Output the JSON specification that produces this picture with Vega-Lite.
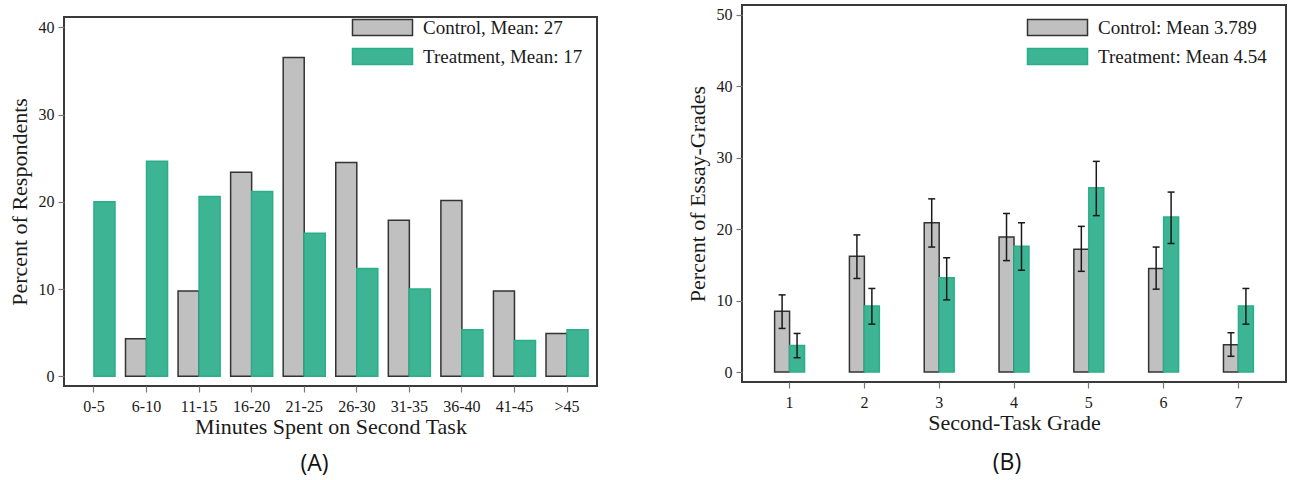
{
  "$schema": "https://vega.github.io/schema/vega-lite/v6.json",
  "padding": {"left": 7, "top": 4, "right": 0, "bottom": 0},
  "background": "white",
  "config": {
    "font": "Liberation Serif",
    "view": {"stroke": "#3a3a3a", "strokeWidth": 2},
    "axis": {"grid": false, "domain": false, "tickColor": "#777777", "tickWidth": 1.2, "tickSize": 6, "labelFont": "Liberation Serif", "labelFontSize": 16, "labelColor": "#1a1a1a", "titleFont": "Liberation Serif", "titleFontSize": 22, "titleFontWeight": "normal", "titleColor": "#1a1a1a"},
    "axisX": {"labelAngle": 0, "labelPadding": 6, "titlePadding": 2},
    "axisY": {"labelPadding": 4, "titlePadding": 7},
    "legend": {"symbolType": "M-3.75,-1H3.75V1H-3.75Z", "symbolSize": 256, "symbolStrokeWidth": 1.5, "symbolOpacity": 1, "labelFont": "Liberation Serif", "labelFontSize": 19, "labelColor": "#1a1a1a", "labelOffset": 31, "rowPadding": 6, "labelLimit": 400},
    "title": {"font": "Open Sans", "fontSize": 23, "fontWeight": "normal", "color": "#111111"}
  },
  "datasets": {
    "minutes": [
      {"bin": "0-5", "series": "Treatment, Mean: 17", "pct": 20.0},
      {"bin": "6-10", "series": "Control, Mean: 27", "pct": 4.3},
      {"bin": "6-10", "series": "Treatment, Mean: 17", "pct": 24.66},
      {"bin": "11-15", "series": "Control, Mean: 27", "pct": 9.77},
      {"bin": "11-15", "series": "Treatment, Mean: 17", "pct": 20.6},
      {"bin": "16-20", "series": "Control, Mean: 27", "pct": 23.4},
      {"bin": "16-20", "series": "Treatment, Mean: 17", "pct": 21.2},
      {"bin": "21-25", "series": "Control, Mean: 27", "pct": 36.56},
      {"bin": "21-25", "series": "Treatment, Mean: 17", "pct": 16.4},
      {"bin": "26-30", "series": "Control, Mean: 27", "pct": 24.5},
      {"bin": "26-30", "series": "Treatment, Mean: 17", "pct": 12.37},
      {"bin": "31-35", "series": "Control, Mean: 27", "pct": 17.9},
      {"bin": "31-35", "series": "Treatment, Mean: 17", "pct": 10.0},
      {"bin": "36-40", "series": "Control, Mean: 27", "pct": 20.15},
      {"bin": "36-40", "series": "Treatment, Mean: 17", "pct": 5.34},
      {"bin": "41-45", "series": "Control, Mean: 27", "pct": 9.77},
      {"bin": "41-45", "series": "Treatment, Mean: 17", "pct": 4.12},
      {"bin": ">45", "series": "Control, Mean: 27", "pct": 4.9},
      {"bin": ">45", "series": "Treatment, Mean: 17", "pct": 5.34}
    ],
    "grades": [
      {"grade": 1, "series": "Control: Mean 3.789", "pct": 8.5, "lo": 6.1, "hi": 10.8},
      {"grade": 1, "series": "Treatment: Mean 4.54", "pct": 3.7, "lo": 2.0, "hi": 5.4},
      {"grade": 2, "series": "Control: Mean 3.789", "pct": 16.2, "lo": 13.1, "hi": 19.2},
      {"grade": 2, "series": "Treatment: Mean 4.54", "pct": 9.25, "lo": 6.7, "hi": 11.7},
      {"grade": 3, "series": "Control: Mean 3.789", "pct": 20.9, "lo": 17.5, "hi": 24.25},
      {"grade": 3, "series": "Treatment: Mean 4.54", "pct": 13.2, "lo": 10.1, "hi": 16.0},
      {"grade": 4, "series": "Control: Mean 3.789", "pct": 18.9, "lo": 15.6, "hi": 22.2},
      {"grade": 4, "series": "Treatment: Mean 4.54", "pct": 17.6, "lo": 14.25, "hi": 20.9},
      {"grade": 5, "series": "Control: Mean 3.789", "pct": 17.2, "lo": 14.1, "hi": 20.4},
      {"grade": 5, "series": "Treatment: Mean 4.54", "pct": 25.8, "lo": 21.9, "hi": 29.5},
      {"grade": 6, "series": "Control: Mean 3.789", "pct": 14.5, "lo": 11.6, "hi": 17.5},
      {"grade": 6, "series": "Treatment: Mean 4.54", "pct": 21.7, "lo": 18.0, "hi": 25.2},
      {"grade": 7, "series": "Control: Mean 3.789", "pct": 3.8, "lo": 2.2, "hi": 5.5},
      {"grade": 7, "series": "Treatment: Mean 4.54", "pct": 9.25, "lo": 6.7, "hi": 11.7}
    ]
  },
  "spacing": 87,
  "resolve": {
    "scale": {"x": "independent", "y": "independent", "xOffset": "independent", "fill": "independent", "stroke": "independent"},
    "legend": {"fill": "independent", "stroke": "independent"}
  },
  "hconcat": [
    {
      "spacing": 0,
      "vconcat": [
        {
          "width": 533, "height": 11,
          "view": {"stroke": null},
          "data": {"values": []},
          "mark": {"type": "rule"},
          "encoding": {}
        },
        {
          "width": 533, "height": 369,
          "title": {"text": "(A)", "orient": "bottom", "anchor": "middle", "frame": "group", "dx": -16, "offset": 16},
          "data": {"name": "minutes"},
          "mark": {"type": "bar", "strokeWidth": 1.5, "opacity": 1},
          "encoding": {
            "x": {"field": "bin", "type": "nominal", "title": "Minutes Spent on Second Task",
                  "scale": {"domain": ["0-5", "6-10", "11-15", "16-20", "21-25", "26-30", "31-35", "36-40", "41-45", ">45"], "paddingInner": 0.2, "paddingOuter": 0.17}},
            "xOffset": {"field": "series", "type": "nominal"},
            "y": {"field": "pct", "type": "quantitative", "title": "Percent of Respondents",
                  "scale": {"domain": [-1.11, 41.19], "nice": false, "zero": false},
                  "axis": {"values": [0, 10, 20, 30, 40]}},
            "fill": {"field": "series", "type": "nominal", "scale": {"range": ["#c0c0c0", "#3db594"]},
                     "legend": {"title": null, "orient": "none", "legendX": 309, "legendY": 13}},
            "stroke": {"field": "series", "type": "nominal", "scale": {"range": ["#333333", "#2aae87"]},
                       "legend": {"title": null, "orient": "none", "legendX": 309, "legendY": 13}}
          }
        }
      ]
    },
    {
      "width": 544, "height": 377,
      "title": {"text": "(B)", "orient": "bottom", "anchor": "middle", "frame": "group", "dx": -7, "offset": 19},
      "data": {"name": "grades"},
      "encoding": {
        "x": {"field": "grade", "type": "ordinal", "title": "Second-Task Grade",
              "scale": {"paddingInner": 0.6, "paddingOuter": 0.436}},
        "xOffset": {"field": "series", "type": "nominal"}
      },
      "layer": [
        {
          "mark": {"type": "bar", "strokeWidth": 1.5, "opacity": 1},
          "encoding": {
            "y": {"field": "pct", "type": "quantitative", "title": "Percent of Essay-Grades",
                  "scale": {"domain": [-1.4, 51.4], "nice": false, "zero": false},
                  "axis": {"values": [0, 10, 20, 30, 40, 50]}},
            "fill": {"field": "series", "type": "nominal", "scale": {"range": ["#c0c0c0", "#3db594"]},
                     "legend": {"title": null, "orient": "none", "legendX": 306, "legendY": 13}},
            "stroke": {"field": "series", "type": "nominal", "scale": {"range": ["#333333", "#2aae87"]},
                       "legend": {"title": null, "orient": "none", "legendX": 306, "legendY": 13}}
          }
        },
        {
          "mark": {"type": "rule", "color": "#1a1a1a", "strokeWidth": 1.5},
          "encoding": {
            "y": {"field": "lo", "type": "quantitative"},
            "y2": {"field": "hi"}
          }
        },
        {
          "mark": {"type": "tick", "color": "#1a1a1a", "size": 7, "thickness": 1.5, "opacity": 1},
          "encoding": {"y": {"field": "lo", "type": "quantitative"}}
        },
        {
          "mark": {"type": "tick", "color": "#1a1a1a", "size": 7, "thickness": 1.5, "opacity": 1},
          "encoding": {"y": {"field": "hi", "type": "quantitative"}}
        }
      ]
    }
  ]
}
